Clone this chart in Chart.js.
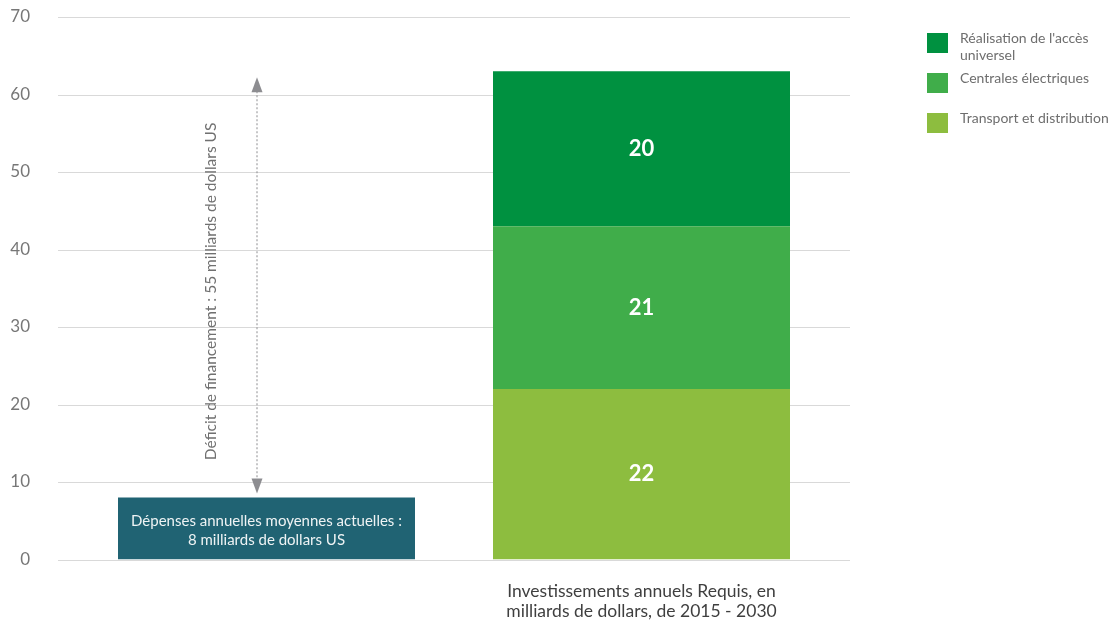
<!DOCTYPE html>
<html lang="fr">
<head>
<meta charset="utf-8">
<title>Investissements annuels requis</title>
<script src="https://cdn.jsdelivr.net/npm/chart.js@4/dist/chart.umd.min.js"></script>
<style>
  html, body { margin: 0; padding: 0; background: #fff; }
  #wrap { position: relative; width: 1112px; height: 621px; }
  #legend { position: absolute; left: 927px; top: 33px; font-family: Lato, "Noto Sans", sans-serif; font-size: 14px; color: #6e6e6e; }
  .item { position: absolute; left: 0; width: 190px; }
  .item .sw { position: absolute; left: 0; top: 0; width: 21px; height: 20px; }
  .item .tx { position: absolute; left: 33px; top: -4px; line-height: 17px; white-space: nowrap; }
</style>
</head>
<body>
<div id="wrap">
  <canvas id="chart" width="1112" height="621"></canvas>
  <div id="legend"></div>
</div>
<script>
// Categories: the left column has no axis label, it carries its own caption inside the bar
const categories = ['', ['Investissements annuels Requis, en', 'milliards de dollars, de 2015 - 2030']];

// Milliards de dollars US par an
const currentSpending = [8, null];
const transportDistribution = [null, 22];
const centralesElectriques = [null, 21];
const accesUniversel = [null, 20];

const yTicks = [0, 10, 20, 30, 40, 50, 60, 70];

const spendingCaption = ['Dépenses annuelles moyennes actuelles :', '8 milliards de dollars US'];
const gapCaption = 'Déficit de financement : 55 milliards de dollars US';

const COLORS = {
  spending: '#206373',
  transport: '#8dbd3f',
  centrales: '#40ad4a',
  acces: '#009140',
  grid: '#d9d9d9',
  tick: '#777777',
  arrow: '#8d8d91',
};

const FONT = 'Lato, "Noto Sans", sans-serif';

const datasets = [
  { label: 'Dépenses actuelles', data: currentSpending, backgroundColor: COLORS.spending, showLabel: false },
  { label: 'Transport et distribution', data: transportDistribution, backgroundColor: COLORS.transport, showLabel: true },
  { label: 'Centrales électriques', data: centralesElectriques, backgroundColor: COLORS.centrales, showLabel: true },
  { label: ['Réalisation de l\'accès', 'universel'], data: accesUniversel, backgroundColor: COLORS.acces, showLabel: true },
];

// Horizontal grid lines run a little past the plot area on both sides
const gridPlugin = {
  id: 'wideGrid',
  beforeDatasetsDraw(chart) {
    const { ctx, chartArea, scales } = chart;
    ctx.save();
    ctx.strokeStyle = COLORS.grid;
    ctx.lineWidth = 1;
    yTicks.forEach((v) => {
      const y = Math.round(scales.y.getPixelForValue(v)) + 0.5;
      ctx.beginPath();
      ctx.moveTo(chartArea.left - 21, y);
      ctx.lineTo(chartArea.right + 21, y);
      ctx.stroke();
    });
    ctx.restore();
  },
};

function arrowHead(ctx, x, y, dir) {
  ctx.beginPath();
  ctx.moveTo(x, y);
  ctx.lineTo(x - 5.5, y - dir * 15);
  ctx.lineTo(x + 5.5, y - dir * 15);
  ctx.closePath();
  ctx.fill();
}

const annotationPlugin = {
  id: 'annotations',
  afterDatasetsDraw(chart) {
    const { ctx, scales } = chart;
    ctx.save();

    // Values inside the stacked segments
    ctx.fillStyle = '#ffffff';
    ctx.font = `bold 22px ${FONT}`;
    ctx.textAlign = 'center';
    ctx.textBaseline = 'middle';
    chart.data.datasets.forEach((ds, i) => {
      if (!ds.showLabel) return;
      chart.getDatasetMeta(i).data.forEach((bar, j) => {
        const v = ds.data[j];
        if (v == null) return;
        ctx.fillText(String(v), bar.x, (bar.y + bar.base) / 2);
      });
    });

    // Caption inside the current spending bar
    const spendBar = chart.getDatasetMeta(0).data[0];
    ctx.fillStyle = '#eef3f4';
    ctx.font = `15px ${FONT}`;
    const midY = (spendBar.y + spendBar.base) / 2;
    ctx.fillText(spendingCaption[0], spendBar.x, midY - 7);
    ctx.fillText(spendingCaption[1], spendBar.x, midY + 12);

    // Funding gap arrow, from current spending up to total requirement
    const total = transportDistribution[1] + centralesElectriques[1] + accesUniversel[1];
    const yTop = scales.y.getPixelForValue(total) + 6;
    const yBot = scales.y.getPixelForValue(currentSpending[0]) - 4;
    const ax = spendBar.x - 9.5;
    ctx.strokeStyle = COLORS.arrow;
    ctx.fillStyle = COLORS.arrow;
    ctx.lineWidth = 1;
    ctx.setLineDash([2, 2]);
    ctx.beginPath();
    ctx.moveTo(ax, yTop + 10);
    ctx.lineTo(ax, yBot - 10);
    ctx.stroke();
    ctx.setLineDash([]);
    arrowHead(ctx, ax, yTop, -1);
    arrowHead(ctx, ax, yBot, 1);

    // Rotated caption beside the arrow
    ctx.fillStyle = '#707070';
    ctx.font = `15.5px ${FONT}`;
    ctx.translate(ax - 46, (yTop + yBot) / 2 + 6);
    ctx.rotate(-Math.PI / 2);
    ctx.fillText(gapCaption, 0, 0);

    ctx.restore();
  },
};

const chart = new Chart(document.getElementById('chart'), {
  type: 'bar',
  data: { labels: categories, datasets },
  options: {
    responsive: false,
    animation: false,
    layout: { padding: { left: 0, right: 283, top: 17, bottom: 0 } },
    datasets: { bar: { categoryPercentage: 1, barPercentage: 0.792 } },
    plugins: {
      legend: { display: false },
      tooltip: { enabled: false },
    },
    scales: {
      x: {
        stacked: true,
        grid: { display: false, drawTicks: false },
        border: { display: false },
        ticks: {
          color: '#3f3f3f',
          padding: 21.5,
          font: { family: FONT, size: 17.5, lineHeight: 1.15 },
          maxRotation: 0,
        },
        afterFit: (s) => { s.height = 61.5; },
      },
      y: {
        stacked: true,
        min: 0,
        max: 70,
        grid: { display: false, drawTicks: false },
        border: { display: false },
        ticks: {
          stepSize: 10,
          color: COLORS.tick,
          padding: 49,
          font: { family: FONT, size: 17 },
        },
        // wide label gap, but keep the vertical padding to half a label
        afterFit: (s) => { s.width = 79; s.paddingTop = 9; s.paddingBottom = 9; },
      },
    },
  },
  plugins: [gridPlugin, annotationPlugin],
});

// Legend on the right, top to bottom in reverse stacking order
const legendEl = document.getElementById('legend');
const legendTops = [0, 40, 80];
datasets.slice(1).reverse().forEach((ds, i) => {
  const item = document.createElement('div');
  item.className = 'item';
  item.style.top = legendTops[i] + 'px';
  const sw = document.createElement('div');
  sw.className = 'sw';
  sw.style.background = ds.backgroundColor;
  const tx = document.createElement('div');
  tx.className = 'tx';
  tx.innerHTML = [].concat(ds.label).join('<br>');
  item.appendChild(sw);
  item.appendChild(tx);
  legendEl.appendChild(item);
});
</script>
</body>
</html>
